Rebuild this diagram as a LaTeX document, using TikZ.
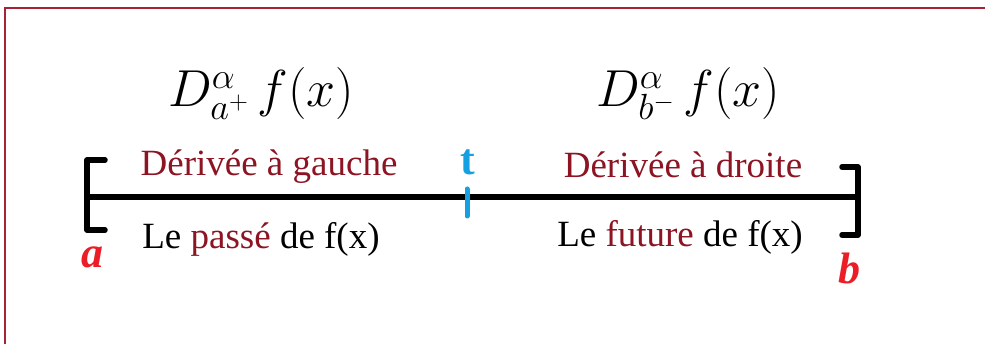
\documentclass[tikz,border=0pt]{standalone}
\usepackage{fix-cm}
\usepackage{fontspec}
\setmainfont{Liberation Serif}
\definecolor{frame}{RGB}{165,35,55}
\definecolor{dred}{RGB}{140,20,35}
\definecolor{tblue}{RGB}{20,160,225}
\definecolor{lred}{RGB}{235,30,40}
\tikzset{
  axis/.style={line width=6pt,black},
  brk/.style={line width=5.5pt,black,line cap=round,line join=round},
  lbl/.style={inner sep=0pt,font=\fontsize{37}{40}\selectfont},
  mth/.style={inner sep=0pt,font=\fontsize{52}{58}\selectfont},
  endlbl/.style={inner sep=0pt,text=lred,font=\fontsize{44}{48}\selectfont\bfseries\itshape}
}
\begin{document}
\begin{tikzpicture}[x=1pt,y=-1pt]
\useasboundingbox (0,0) rectangle (985,344);
\fill[white] (0,0) rectangle (985,344);
\draw[frame,line width=2pt] (5,344) -- (5,8) -- (985,8);
\coordinate (A) at (87,197);
\coordinate (B) at (858,197);
\draw[axis] (A) -- (B);
\draw[brk] (105,160) -- (87,160) -- (87,230) -- (105,230);
\draw[brk] (842,167) -- (858,167) -- (858,235) -- (842,235);
\coordinate (T1) at (467,189);
\coordinate (T2) at (467,216);
\draw[tblue,line width=5pt,line cap=round] (T1) -- (T2);
\node[inner sep=0pt,text=tblue,font=\fontsize{44}{48}\selectfont\bfseries] (t) at (468,162) {t};
\node[endlbl] (a) at (92,257) {a};
\node[endlbl] (b) at (849,268) {b};
\node[lbl,text=dred] (dg) at (269,167) {Dérivée à gauche};
\node[lbl,text=dred] (dd) at (683,165) {Dérivée à droite};
\node[lbl] (pg) at (261,239) {Le \textcolor{dred}{passé} de f(x)};
\node[lbl] (pd) at (680,237) {Le \textcolor{dred}{future} de f(x)};
\node[mth] (m1) at (261,94) {$D^{\alpha}_{a^+}\,f(x)$};
\node[mth] (m2) at (688,94) {$D^{\alpha}_{b^-}\,f(x)$};
\end{tikzpicture}
\end{document}
